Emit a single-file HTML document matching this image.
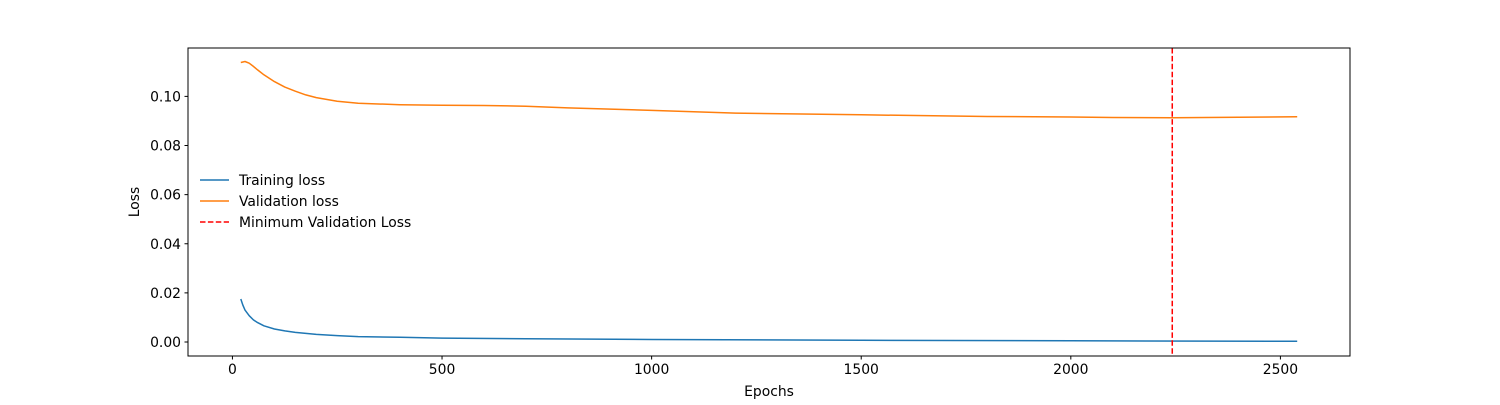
<!DOCTYPE html>
<html><head><meta charset="utf-8"><style>
body{margin:0;background:#fff}
svg text{font-family:"DejaVu Sans","Liberation Sans",sans-serif;font-size:13.9px;fill:#000}
</style></head><body>
<svg id="chart" width="1500" height="400">
<g id="plot"></g>
</svg>
<script>
const trainEpochs=[20,25,30,40,50,60,75,100,125,150,200,250,300,400,500,700,1000,1500,2000,2540];
const trainLoss=[0.0175,0.015,0.013,0.0107,0.009,0.0079,0.0066,0.0053,0.0045,0.0039,0.0031,0.0026,0.0022,0.0019,0.0016,0.0013,0.001,0.0007,0.0005,0.0003];
const valEpochs=[20,30,40,50,60,75,100,125,150,175,200,250,300,400,500,600,700,800,1000,1200,1500,1800,2000,2100,2242,2400,2540];
const valLoss=[0.1138,0.1142,0.1135,0.1122,0.1108,0.1088,0.106,0.1038,0.1021,0.1006,0.0995,0.098,0.0972,0.0966,0.0964,0.0963,0.096,0.0953,0.0943,0.0932,0.0925,0.0918,0.0916,0.0914,0.0913,0.0915,0.0917];
const minEpoch=2242;
const xTicks=[0,500,1000,1500,2000,2500];
const yTicks=[0,0.02,0.04,0.06,0.08,0.10];
const L=188,R=1350,T=48,B=356;
const x0=-106,x1=2666,y0=-0.0057,y1=0.1197;
const sx=v=>L+(v-x0)/(x1-x0)*(R-L);
const sy=v=>B-(v-y0)/(y1-y0)*(B-T);
const g=document.getElementById('plot');
const NS='http://www.w3.org/2000/svg';
function el(t,a,p){const e=document.createElementNS(NS,t);for(const k in a)e.setAttribute(k,a[k]);(p||g).appendChild(e);return e;}
function line(xs,ys,color,name){
  const d=xs.map((v,i)=>(i?'L':'M')+sx(v).toFixed(1)+','+sy(ys[i]).toFixed(1)).join('');
  const p=el('path',{d:d,fill:'none',stroke:color,'stroke-width':1.5,'stroke-linejoin':'round'});
  
  
}
line(trainEpochs,trainLoss,'#1f77b4','training-loss-line');
line(valEpochs,valLoss,'#ff7f0e','validation-loss-line');
const ml=el('line',{x1:sx(minEpoch),x2:sx(minEpoch),y1:T,y2:B,stroke:'red','stroke-width':1.5,'stroke-dasharray':'5.5,2.4'});


const fr=el('rect',{x:L,y:T,width:R-L,height:B-T,fill:'none',stroke:'#000','stroke-width':1});


xTicks.forEach(v=>{
  el('line',{x1:sx(v),x2:sx(v),y1:B,y2:B+3.5,stroke:'#000'});
  const t=el('text',{x:sx(v),y:B+18,'text-anchor':'middle'});t.textContent=v;
  
  
});
yTicks.forEach(v=>{
  el('line',{x1:L-3.5,x2:L,y1:sy(v),y2:sy(v),stroke:'#000'});
  const t=el('text',{x:L-7,y:sy(v)+5,'text-anchor':'end'});t.textContent=v.toFixed(2);
  
  
});
const xt=el('text',{x:(L+R)/2,y:396,'text-anchor':'middle'});xt.textContent='Epochs';


const yt=el('text',{x:139,y:(T+B)/2,'text-anchor':'middle',transform:'rotate(-90 139 '+((T+B)/2)+')'});yt.textContent='Loss';


const leg=[['Training loss','#1f77b4',''],['Validation loss','#ff7f0e',''],['Minimum Validation Loss','red','5.5,2.4']];
leg.forEach((e,i)=>{
  const y=180+i*21;
  const a={x1:200,x2:229,y1:y,y2:y,stroke:e[1],'stroke-width':1.5};
  if(e[2])a['stroke-dasharray']=e[2];
  el('line',a);
  const t=el('text',{x:239,y:y+5});t.textContent=e[0];
  
  
});
</script>
</body></html>
